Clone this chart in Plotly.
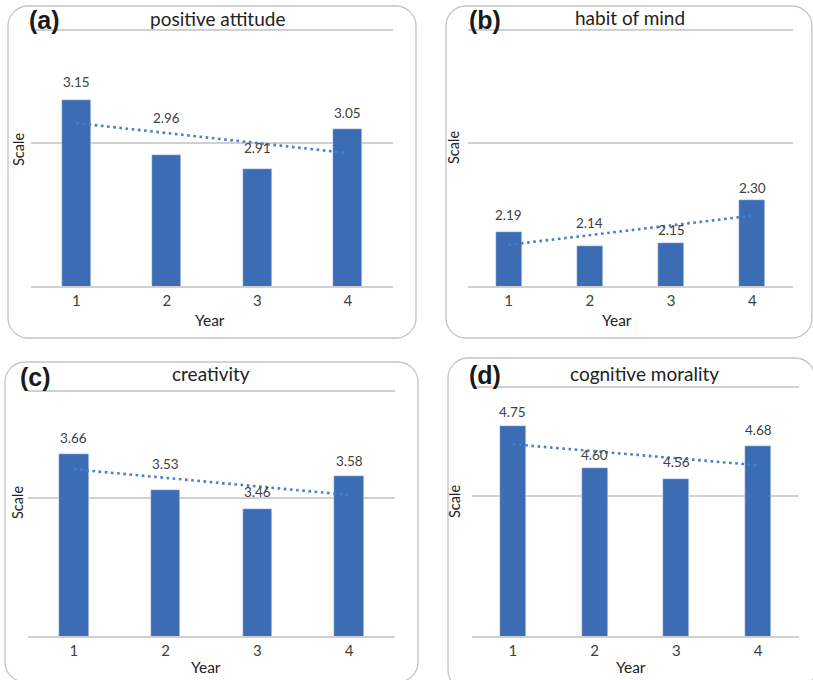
import numpy as np
import plotly.graph_objects as go

# ---------------- data ----------------
years = [1, 2, 3, 4]
year_labels = ["1", "2", "3", "4"]
positive_attitude = [3.15, 2.96, 2.91, 3.05]
habit_of_mind = [2.19, 2.14, 2.15, 2.30]
creativity = [3.66, 3.53, 3.46, 3.58]
cognitive_morality = [4.75, 4.60, 4.56, 4.68]
panel_letters = ["(a)", "(b)", "(c)", "(d)"]
panel_titles = ["positive attitude", "habit of mind", "creativity", "cognitive morality"]
series = [positive_attitude, habit_of_mind, creativity, cognitive_morality]
axis_min = [2.5, 2.0, 3.0, 4.0]

# ---------------- layout (pixels) ----------------
W, H = 813, 680
BAR = "#3b6cb4"
TREND = "#4a7ec6"
TXT = "#404040"
GRID = "#d0d0d0"
BOX = "#c4c4c4"
FONT = "Lato"

# plot area: (left, right, top, bottom) in px
plot_px = [(31, 393, 31, 286), (468, 793, 31, 286), (28, 395, 392, 636), (472, 799, 388, 636)]
y_span = [0.892, 0.892, 0.884, 0.886]
label_off = [[18, 36, 21, 16], [17, 23, 13, 12], [16, 26, 17, 15], [14, 13, 17, 16]]
box_px = [(8, 416, 6, 338), (446, 812, 6, 338), (5, 418, 362, 682), (448, 815, 358, 690)]
title_px = [(218, 18), (630, 17), (211, 373), (644, 373)]
letter_px = [(44, 20), (485, 20), (35, 377), (485, 375)]
scale_px = [(18, 150), (453, 148), (17, 503), (454, 502)]
year_px = [(210, 320), (617, 320), (206, 667), (631, 667)]


def px(x):
    return x / W


def py(y):
    return 1 - y / H


def rounded_rect(x0, x1, y0, y1, r):
    k = 0.5523 * r
    segs = [
        ("M", [(x0 + r, y0)]),
        ("L", [(x1 - r, y0)]),
        ("C", [(x1 - r + k, y0), (x1, y0 + r - k), (x1, y0 + r)]),
        ("L", [(x1, y1 - r)]),
        ("C", [(x1, y1 - r + k), (x1 - r + k, y1), (x1 - r, y1)]),
        ("L", [(x0 + r, y1)]),
        ("C", [(x0 + r - k, y1), (x0, y1 - r + k), (x0, y1 - r)]),
        ("L", [(x0, y0 + r)]),
        ("C", [(x0, y0 + r - k), (x0 + r - k, y0), (x0 + r, y0)]),
    ]
    s = ""
    for cmd, p in segs:
        s += cmd + " " + " ".join(f"{px(a):.5f},{py(b):.5f}" for a, b in p) + " "
    return s + "Z"


fig = go.Figure()
shapes = []
annotations = []

for i in range(4):
    vals = series[i]
    n = i + 1
    xa = "x" if n == 1 else f"x{n}"
    ya = "y" if n == 1 else f"y{n}"
    l, r, t, b = plot_px[i]
    lo = axis_min[i]
    hi = lo + y_span[i]

    fig.add_trace(go.Bar(x=years, y=vals, marker_color=BAR, width=0.32,
                         xaxis=xa, yaxis=ya, showlegend=False, hoverinfo="x+y"))
    coef = np.polyfit(years, vals, 1)
    trend = np.polyval(coef, years)
    fig.add_trace(go.Scatter(x=years, y=trend, mode="lines", xaxis=xa, yaxis=ya,
                             line=dict(color=TREND, width=2.6, dash="2.6px,3.6px"),
                             showlegend=False, hoverinfo="skip"))

    axkey = "xaxis" if n == 1 else f"xaxis{n}"
    aykey = "yaxis" if n == 1 else f"yaxis{n}"
    fig.update_layout(**{
        axkey: dict(domain=[px(l), px(r)], range=[0.5, 4.5], anchor=ya,
                    tickvals=years, ticktext=year_labels, showgrid=False, zeroline=False,
                    showline=True, mirror=True, linecolor=GRID, linewidth=1.5,
                    ticks="", tickfont=dict(family=FONT, size=15, color=TXT),
                    fixedrange=True),
        aykey: dict(domain=[py(b), py(t)], range=[lo, hi], anchor=xa,
                    tick0=lo, dtick=0.5, showgrid=True, gridcolor=GRID, gridwidth=1.5,
                    showticklabels=False, zeroline=False, showline=False, ticks="",
                    fixedrange=True),
    })

    for j, v in enumerate(vals):
        annotations.append(dict(x=years[j], y=v, xref=xa, yref=ya, text=f"{v:.2f}",
                                showarrow=False, yanchor="middle", yshift=label_off[i][j],
                                font=dict(family=FONT, size=13.5, color=TXT)))

    bx0, bx1, by0, by1 = box_px[i]
    shapes.append(dict(type="path", xref="paper", yref="paper",
                       path=rounded_rect(bx0, bx1, by0, by1, 20),
                       line=dict(color=BOX, width=1.3), layer="below"))

    annotations.append(dict(x=px(title_px[i][0]), y=py(title_px[i][1]), xref="paper", yref="paper",
                            text=panel_titles[i], showarrow=False, xanchor="center", yanchor="middle",
                            font=dict(family=FONT, size=19, color="#222222")))
    annotations.append(dict(x=px(letter_px[i][0]), y=py(letter_px[i][1]), xref="paper", yref="paper",
                            text=f"<b>{panel_letters[i]}</b>", showarrow=False, xanchor="center",
                            yanchor="middle", font=dict(family="Liberation Sans", size=25, color="#1a1a1a")))
    annotations.append(dict(x=px(scale_px[i][0]), y=py(scale_px[i][1]), xref="paper", yref="paper",
                            text="Scale", showarrow=False, textangle=-90, xanchor="center",
                            yanchor="middle", font=dict(family=FONT, size=14.5, color="#222222")))
    annotations.append(dict(x=px(year_px[i][0]), y=py(year_px[i][1]), xref="paper", yref="paper",
                            text="Year", showarrow=False, xanchor="center", yanchor="middle",
                            font=dict(family=FONT, size=15.5, color="#222222")))

fig.update_layout(width=W, height=H, margin=dict(l=0, r=0, t=0, b=0),
                  paper_bgcolor="white", plot_bgcolor="rgba(0,0,0,0)",
                  shapes=shapes, annotations=annotations, bargap=0)

fig.write_html("out.html")
